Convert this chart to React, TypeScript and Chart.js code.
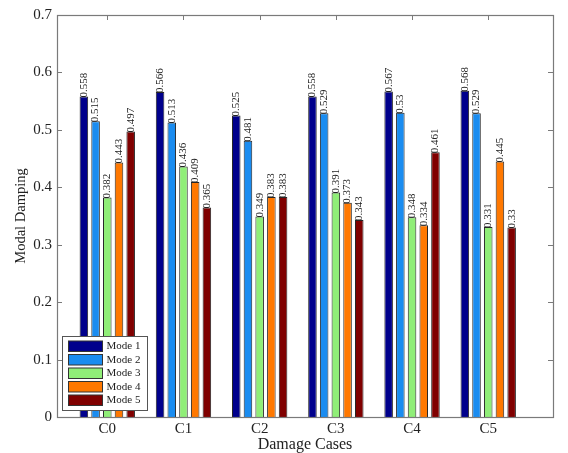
import React, { useEffect, useRef } from "react";
import { Chart, registerables } from "chart.js";

Chart.register(...registerables);

const categories = ["C0", "C1", "C2", "C3", "C4", "C5"];
const seriesNames = ["Mode 1", "Mode 2", "Mode 3", "Mode 4", "Mode 5"];
const mode1 = [0.558, 0.566, 0.525, 0.558, 0.567, 0.568];
const mode2 = [0.515, 0.513, 0.481, 0.529, 0.53, 0.529];
const mode3 = [0.382, 0.436, 0.349, 0.391, 0.348, 0.331];
const mode4 = [0.443, 0.409, 0.383, 0.373, 0.334, 0.445];
const mode5 = [0.497, 0.365, 0.383, 0.343, 0.461, 0.33];
const yTicks = [0, 0.1, 0.2, 0.3, 0.4, 0.5, 0.6, 0.7];
const colors = ["#00008c", "#1a8cf0", "#90ee78", "#ff7800", "#800000"];

const SERIF = "'Liberation Serif', 'Times New Roman', serif";

export default function App() {
  const ref = useRef<HTMLCanvasElement | null>(null);

  useEffect(() => {
    document.body.style.margin = "0";
    const canvas = ref.current;
    if (!canvas) return;
    const values = [mode1, mode2, mode3, mode4, mode5];

    const framePlugin = {
      id: "frame",
      beforeDatasetsDraw(chart: any) {
        const { ctx, chartArea: ca, scales } = chart;
        ctx.save();
        ctx.strokeStyle = "#7a7a7a";
        ctx.lineWidth = 1;
        ctx.beginPath();
        const tl = 5;
        yTicks.forEach((v) => {
          const y = Math.round(scales.y.getPixelForValue(v)) + 0.5;
          ctx.moveTo(ca.left, y);
          ctx.lineTo(ca.left + tl, y);
          ctx.moveTo(ca.right, y);
          ctx.lineTo(ca.right - tl, y);
        });
        categories.forEach((_, i) => {
          const x = Math.round(scales.x.getPixelForValue(i)) + 0.5;
          ctx.moveTo(x, ca.top);
          ctx.lineTo(x, ca.top + tl);
          ctx.moveTo(x, ca.bottom);
          ctx.lineTo(x, ca.bottom - tl);
        });
        ctx.stroke();
        ctx.restore();
      },
      afterDatasetsDraw(chart: any) {
        const { ctx, chartArea: ca } = chart;
        ctx.save();
        ctx.strokeStyle = "#7a7a7a";
        ctx.lineWidth = 1.2;
        ctx.strokeRect(
          Math.round(ca.left) + 0.5,
          Math.round(ca.top) + 0.5,
          Math.round(ca.right - ca.left),
          Math.round(ca.bottom - ca.top)
        );
        // data labels
        ctx.fillStyle = "#222";
        ctx.font = `11px ${SERIF}`;
        ctx.textAlign = "left";
        ctx.textBaseline = "middle";
        chart.data.datasets.forEach((ds: any, di: number) => {
          const meta = chart.getDatasetMeta(di);
          meta.data.forEach((el: any, i: number) => {
            const v = values[di][i];
            ctx.save();
            ctx.translate(el.x, el.y + 1);
            ctx.rotate(-Math.PI / 2);
            ctx.fillText(String(v), 0, 0);
            ctx.restore();
          });
        });
        // legend
        const bx = Math.round(ca.left) + 5.5;
        const by = Math.round(ca.bottom) - 80.5;
        const bw = 85;
        const bh = 74;
        ctx.fillStyle = "#fff";
        ctx.fillRect(bx, by, bw, bh);
        ctx.strokeStyle = "#555";
        ctx.lineWidth = 1;
        ctx.strokeRect(bx, by, bw, bh);
        ctx.font = `11px ${SERIF}`;
        ctx.textBaseline = "middle";
        seriesNames.forEach((name, i) => {
          const ry = by + 4.5 + i * 13.5;
          ctx.fillStyle = colors[i];
          ctx.fillRect(bx + 6, ry, 34, 10.5);
          ctx.strokeStyle = "#333";
          ctx.strokeRect(bx + 6, ry, 34, 10.5);
          ctx.fillStyle = "#222";
          ctx.fillText(name, bx + 44, ry + 5.5);
        });
        ctx.restore();
      },
    };

    const chart = new Chart(canvas, {
      type: "bar",
      data: {
        datasets: seriesNames.map((name, di) => ({
          label: name,
          data: values[di].map((v, i) => ({ x: i, y: v })),
          backgroundColor: colors[di],
          borderColor: "rgba(0,0,0,0.85)",
          borderWidth: 1,
          categoryPercentage: 0.768,
          barPercentage: 0.73,
        })),
      },
      options: {
        responsive: false,
        animation: false,
        layout: { padding: { top: 15, right: 15, left: 0, bottom: 0 } },
        plugins: {
          legend: { display: false },
          tooltip: { enabled: false },
        },
        scales: {
          x: {
            type: "linear",
            min: -0.66,
            max: 5.85,
            offset: false,
            grid: { display: false, drawTicks: false },
            border: { display: false },
            afterBuildTicks: (scale: any) => {
              scale.ticks = categories.map((_, i) => ({ value: i }));
            },
            afterFit: (scale: any) => {
              scale.height = 36;
            },
            ticks: {
              autoSkip: false,
              maxRotation: 0,
              padding: 3,
              color: "#222",
              font: { family: SERIF, size: 15 },
              callback: (v: any) => categories[Math.round(Number(v))] ?? "",
            },
            title: {
              display: true,
              text: "Damage Cases",
              color: "#222",
              font: { family: SERIF, size: 16, lineHeight: 1 },
              padding: { top: 0, bottom: 0 },
            },
          },
          y: {
            min: 0,
            max: 0.7,
            grid: { display: false, drawTicks: false },
            border: { display: false },
            afterBuildTicks: (scale: any) => {
              scale.ticks = yTicks.map((v) => ({ value: v }));
            },
            afterFit: (scale: any) => {
              scale.width = 57;
            },
            ticks: {
              padding: 5,
              color: "#222",
              font: { family: SERIF, size: 15 },
              callback: (v: any) => (Number(v) === 0 ? "0" : Number(v).toFixed(1)),
            },
            title: {
              display: true,
              text: "Modal Damping",
              color: "#222",
              font: { family: SERIF, size: 14.5, lineHeight: 1 },
              padding: { top: 14, bottom: 0 },
            },
          },
        },
      },
      plugins: [framePlugin],
    } as any);

    return () => chart.destroy();
  }, []);

  return (
    <div style={{ width: 568, height: 453, background: "#fff" }}>
      <canvas ref={ref} width={568} height={453} style={{ display: "block" }} />
    </div>
  );
}
